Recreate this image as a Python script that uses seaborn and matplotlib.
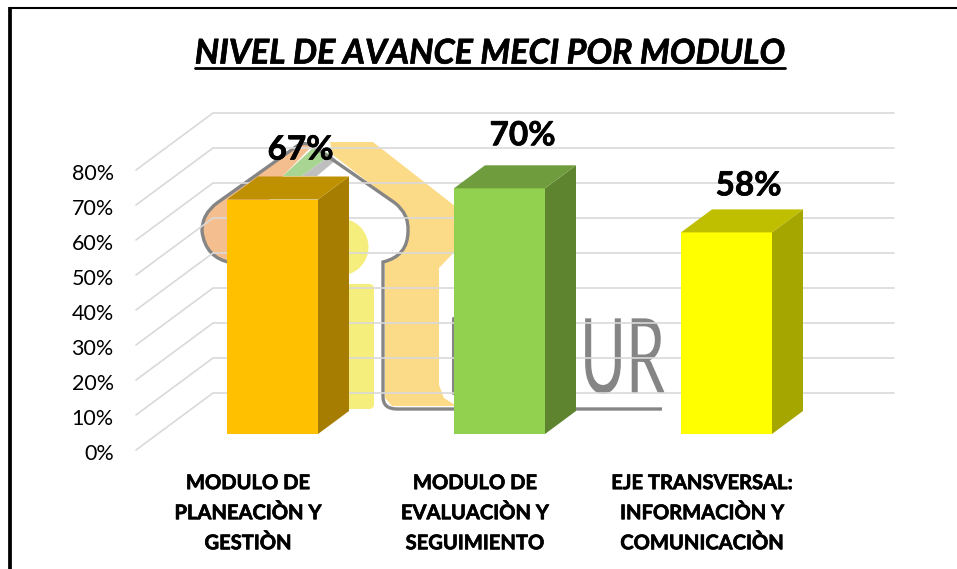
import pandas as pd
import seaborn as sns
import matplotlib.pyplot as plt
import matplotlib.patheffects as pe
from matplotlib.patches import Polygon, Circle, FancyBboxPatch, PathPatch
from matplotlib.path import Path
from matplotlib.lines import Line2D
from matplotlib.transforms import Affine2D

modulos = ["MODULO DE\nPLANEACIÒN Y\nGESTIÒN",
           "MODULO DE\nEVALUACIÒN Y\nSEGUIMIENTO",
           "EJE TRANSVERSAL:\nINFORMACIÒN Y\nCOMUNICACIÒN"]
avance = [67, 70.2, 57.6]
y_ticks = [0, 10, 20, 30, 40, 50, 60, 70, 80]
front_colors = ["#FFC000", "#92D050", "#FFFF00"]
side_colors = ["#A67D00", "#5E8430", "#A6A600"]
top_colors = ["#BF9000", "#6F9C3C", "#BFBF00"]
label_offsets = [(28, 12), (23, 15), (22, 9)]  # value labels, pixels from the bar centre

W, H = 957, 569
PX_PER_PCT = 3.5
BASE_Y = 434        # pixel row of the bar bases
CAT_STEP = 227.0    # pixels between categories
CAT0_X = 272.5
BAR_W = 91 / CAT_STEP
DEPTH = (31, 23)    # bar depth in pixels
GRAY = "#858585"
LOGO_Z = 1


class NarrowText(pe.AbstractPathEffect):
    # squeeze a text horizontally around x0 (the logo lettering is very condensed)
    def __init__(self, x0, factor):
        super().__init__()
        self.x0 = x0
        self.factor = factor

    def draw_path(self, renderer, gc, tpath, affine, rgbFace=None):
        squeeze = Affine2D().translate(-self.x0, 0).scale(self.factor, 1).translate(self.x0, 0)
        renderer.draw_path(gc, tpath, affine + squeeze, rgbFace)


def xdata(p):
    return (p - CAT0_X) / CAT_STEP


def ydata(p):
    return (BASE_Y - p) / PX_PER_PCT


sns.set_theme(style="white")
plt.rcParams['font.family'] = ['Lato', 'DejaVu Sans']
heavier = [pe.withStroke(linewidth=0.5, foreground="black")]

fig = plt.figure(figsize=(W / 100, H / 100), dpi=100)
left, right, top, bottom = 118, 900, 100, 462
ax = fig.add_axes([left / W, 1 - bottom / H, (right - left) / W, (bottom - top) / H])
ax.patch.set_alpha(0)
sns.despine(ax=ax, left=True, bottom=True)

# pixel coordinates for the frame and the watermark behind the chart
px = Affine2D().scale(1, -1).translate(0, H)

# frame of the slide
fig.add_artist(Line2D([10, 10], [569, 7], color="black", lw=2.7, transform=px, solid_capstyle="butt"))
fig.add_artist(Line2D([9, 957], [8.3, 8.3], color="black", lw=1.5, transform=px, solid_capstyle="butt"))

# watermark logo
ax.add_patch(Polygon([(330, 142), (373, 142), (460, 210), (460, 246), (439, 268), (439, 385),
                      (444, 398), (455, 405), (455, 406), (392, 406), (385, 398), (385, 262),
                      (402, 252), (408, 240), (409, 228), (405, 213), (395, 203), (333, 155)],
                     closed=True, fc="#FCDB88", ec="none", transform=px, zorder=LOGO_Z))
ax.add_patch(Circle((340, 247), 28.5, fc="#F6EE7C", ec="none", transform=px, zorder=LOGO_Z))
ax.add_patch(FancyBboxPatch((300, 284), 74, 125, boxstyle="round,pad=0,rounding_size=5",
                            fc="#F6EE7C", ec="none", transform=px, zorder=LOGO_Z))
ax.add_patch(PathPatch(Path([(232, 263), (205, 258), (202, 231), (202, 214), (217, 203),
                             (297, 146), (315, 143), (283, 176), (232, 263)],
                            [Path.MOVETO, Path.CURVE3, Path.CURVE3, Path.CURVE3, Path.CURVE3,
                             Path.LINETO, Path.LINETO, Path.LINETO, Path.CLOSEPOLY]),
                       fc="#F5BE8E", ec="none", transform=px, zorder=LOGO_Z))
ax.add_patch(Polygon([(283, 176), (302, 176), (331, 155), (315, 146)],
                     fc="#A9D593", ec="none", transform=px, zorder=LOGO_Z))
ax.add_patch(Polygon([(302, 176), (317, 176), (336, 160), (331, 155)],
                     fc="#BFBFBF", ec="none", transform=px, zorder=LOGO_Z))
outline = Path([(232, 263), (205, 258), (202, 231), (202, 214), (217, 203),
                (297, 146), (305, 141), (313, 146), (395, 203),
                (409, 214), (408, 231), (408, 256), (383, 262),
                (383, 397), (383, 409), (397, 409), (662, 409)],
               [Path.MOVETO, Path.CURVE3, Path.CURVE3, Path.CURVE3, Path.CURVE3,
                Path.LINETO, Path.CURVE3, Path.CURVE3, Path.LINETO,
                Path.CURVE3, Path.CURVE3, Path.CURVE3, Path.CURVE3,
                Path.LINETO, Path.CURVE3, Path.CURVE3, Path.LINETO])
ax.add_patch(PathPatch(outline, fc="none", ec=GRAY, lw=2.4, transform=px, zorder=LOGO_Z + 0.1))
ax.add_line(Line2D([452.5, 452.5], [318, 393], color=GRAY, lw=2.2, transform=px, zorder=LOGO_Z + 0.1))
fig.text(578 / W, 1 - 393 / H, "UR", color=GRAY, fontsize=75, ha="left", va="baseline",
         zorder=-1, path_effects=[NarrowText(583, 0.6)])

# receding gridlines: side wall, then back wall
for t in y_ticks:
    row = PX_PER_PCT * t
    ax.plot([xdata(136), xdata(213), xdata(894)],
            [ydata(450 - row), ydata(393 - row), ydata(393 - row)],
            color="#D9D9D9", lw=1.2, zorder=2, solid_joinstyle="miter")

df = pd.DataFrame({"modulo": modulos, "avance": avance})
sns.barplot(data=df, x="modulo", y="avance", hue="modulo", palette=front_colors, legend=False,
            width=BAR_W, saturation=1, linewidth=0, ax=ax, zorder=5)
ax.set_xlim(xdata(left), xdata(right))
ax.set_ylim(ydata(bottom), ydata(top))

# side and top faces extruded from the seaborn bars
bars = [b for c in ax.containers for b in c]
for bar, side, cap, val, off in zip(bars, side_colors, top_colors, avance, label_offsets):
    x0, x1 = bar.get_x(), bar.get_x() + bar.get_width()
    h = bar.get_height()
    ddx, ddy = DEPTH[0] / CAT_STEP, DEPTH[1] / PX_PER_PCT
    ax.add_patch(Polygon([(x1, 0), (x1 + ddx, ddy), (x1 + ddx, h + ddy), (x1, h)], fc=side, ec="none", zorder=5))
    ax.add_patch(Polygon([(x0, h), (x0 + ddx, h + ddy), (x1 + ddx, h + ddy), (x1, h)], fc=cap, ec="none", zorder=5))
    ax.annotate(f"{val:.0f}%", xy=((x0 + x1) / 2, h + ddy), xytext=off, textcoords="offset pixels",
                ha="center", va="bottom", fontsize=24, fontweight="bold", color="black", zorder=6,
                path_effects=heavier)

ax.set_yticks([ydata(452 - PX_PER_PCT * t) for t in y_ticks], [f"{t}%" for t in y_ticks])
ax.set_xticks([i - 24.5 / CAT_STEP for i in range(len(modulos))], modulos)
ax.tick_params(axis="y", length=0, pad=3, labelsize=15.5, labelcolor="black")
ax.tick_params(axis="x", length=0, pad=8)
for lab in ax.get_xticklabels():
    lab.set_fontsize(14.5)
    lab.set_fontweight("bold")
    lab.set_color("black")
    lab.set_linespacing(1.63)
    lab.set_path_effects(heavier)
ax.set_xlabel("")
ax.set_ylabel("")

fig.text(490 / W, 1 - 63.5 / H, "NIVEL DE AVANCE MECI POR MODULO", ha="center", va="baseline",
         fontsize=24.5, fontweight="bold", fontstyle="italic", color="black", path_effects=heavier)
fig.add_artist(Line2D([195, 785], [68, 68], color="black", lw=2.0, transform=px))

fig.savefig("out.png", dpi=100)
